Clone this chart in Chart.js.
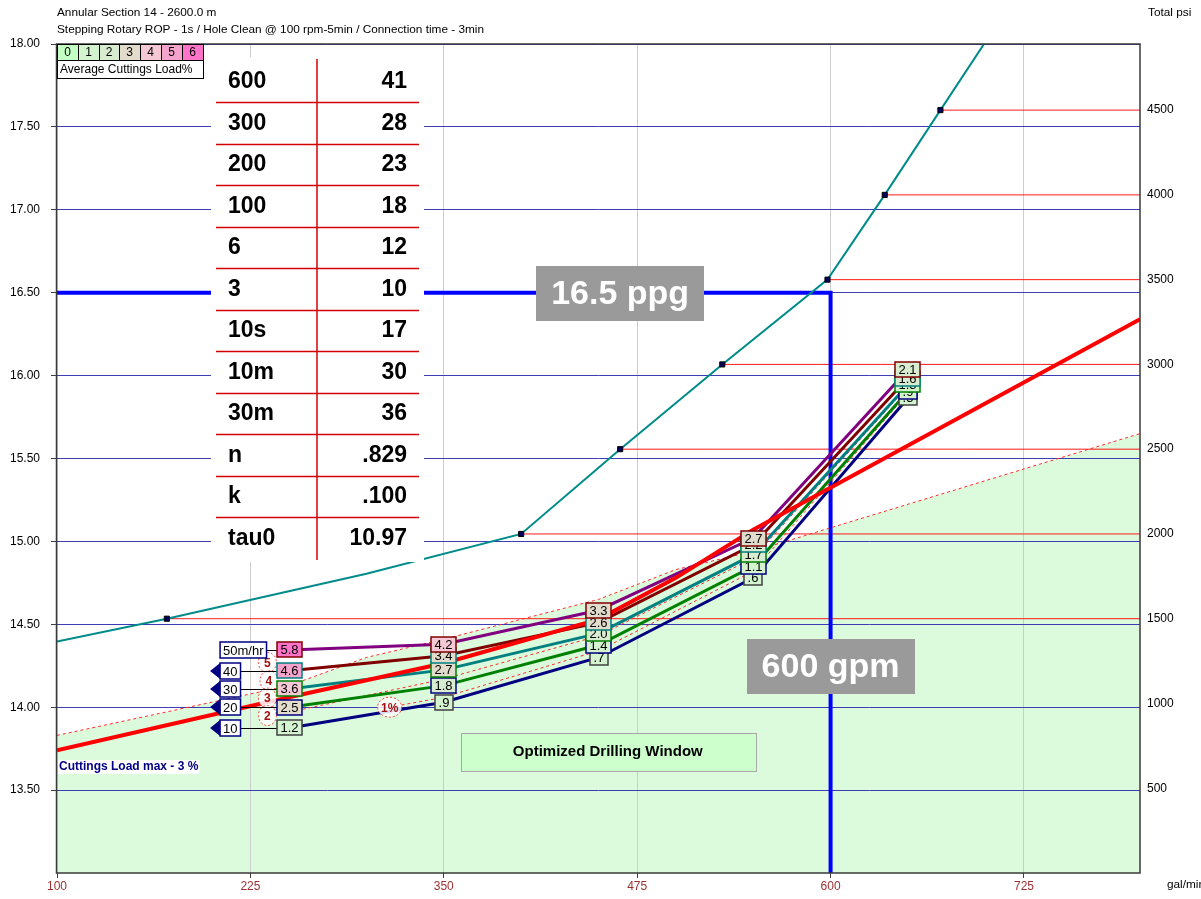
<!DOCTYPE html>
<html>
<head>
<meta charset="utf-8">
<script src="https://cdn.jsdelivr.net/npm/chart.js@4.4.1/dist/chart.umd.min.js"></script>
<style>
  html, body { margin: 0; padding: 0; background: #fff; overflow: hidden; }
  #wrap { position: relative; width: 1201px; height: 899px; }
</style>
</head>
<body>
<div id="wrap"><canvas id="chart" width="1201" height="899"></canvas></div>
<script>
// ---- axes ----
const flowMin = 100, flowMax = 800;
const flowTicks = [100, 225, 350, 475, 600, 725];
const ecdTicks = [13.5, 14, 14.5, 15, 15.5, 16, 16.5, 17, 17.5, 18];
const psiTicks = [500, 1000, 1500, 2000, 2500, 3000, 3500, 4000, 4500];

// ---- ECD (ppg) by flow rate, one series per ROP ----
const flowGpm = [250, 350, 450, 550, 650];
const ecdRop10 = [13.875, 14.03, 14.30, 14.78, 15.865];
const ecdRop20 = [14.00, 14.13, 14.375, 14.85, 15.905];
const ecdRop30 = [14.11, 14.225, 14.445, 14.92, 15.945];
const ecdRop40 = [14.22, 14.31, 14.51, 14.98, 15.985];
const ecdRop50 = [14.345, 14.38, 14.585, 15.02, 16.035];

// ---- average cuttings load (%) at each point ----
const loadRop10 = [1.2, 0.9, 0.7, 0.6, 0.5];
const loadRop20 = [2.5, 1.8, 1.4, 1.1, 0.9];
const loadRop30 = [3.6, 2.7, 2.0, 1.7, 1.3];
const loadRop40 = [4.6, 3.4, 2.6, 2.2, 1.6];
const loadRop50 = [5.8, 4.2, 3.3, 2.7, 2.1];
const ropRates = ['10', '20', '30', '40', '50'];

// ---- cuttings load limit (3 %) and window boundary ----
const maxLoadGpm = [100, 250, 350, 450, 500, 550, 800];
const maxLoadPpg = [13.74, 14.06, 14.265, 14.53, 14.78, 15.07, 16.34];
const windowGpm = [100, 250, 300, 350, 450, 500, 550, 800];
const windowPpg = [13.83, 14.13, 14.30, 14.41, 14.65, 14.83, 14.94, 15.65];

// ---- cuttings load contours ----
const contour1Gpm = [315, 350, 450, 550, 650];
const contour1Ppg = [14.0, 14.06, 14.34, 14.82, 15.895];
const contour2Gpm = [236, 250, 350, 450, 550, 650];
const contour2Ppg = [13.95, 13.97, 14.17, 14.43, 14.90, 15.935];
const contourText = ['5', '4', '3', '2', '1%'];
const contourGpm = [236, 237, 236, 236, 315];
const contourPpg = [14.27, 14.16, 14.055, 13.95, 14.0];

// ---- total pump pressure (psi) ----
const pumpGpm = [100, 171, 300, 400, 464, 530, 598, 635, 671, 710];
const pumpPsi = [1365, 1500, 1765, 2000, 2500, 3000, 3500, 4000, 4500, 5040];
const markerGpm = [171, 400, 464, 530, 598, 635, 671];
const markerPsi = [1500, 2000, 2500, 3000, 3500, 4000, 4500];

// ---- operating point ----
const targetPpg = 16.5;
const targetGpm = 600;

// ---- rheology table ----
const rheoNames = ['600', '300', '200', '100', '6', '3', '10s', '10m', '30m', 'n', 'k', 'tau0'];
const rheoValues = ['41', '28', '23', '18', '12', '10', '17', '30', '36', '.829', '.100', '10.97'];

// ---- cuttings load legend ----
const loadClasses = ['0', '1', '2', '3', '4', '5', '6'];
const loadColors = ['#c4ffc4', '#d4f4d0', '#d8ecd0', '#e2dccc', '#f4c8d4', '#f4a4cc', '#ff74c8'];

const FONT = '"Liberation Sans", Arial, Helvetica, sans-serif';
const pts = (xs, ys) => xs.map((v, i) => ({ x: v, y: ys[i] }));
const fmtLoad = v => (v < 1 ? v.toFixed(1).slice(1) : v.toFixed(1));

const ropSeries = [
  { rate: ropRates[0], ecd: ecdRop10, load: loadRop10, color: '#000080', edge: '#404040' },
  { rate: ropRates[1], ecd: ecdRop20, load: loadRop20, color: '#008000', edge: '#000080' },
  { rate: ropRates[2], ecd: ecdRop30, load: loadRop30, color: '#008080', edge: '#008000' },
  { rate: ropRates[3], ecd: ecdRop40, load: loadRop40, color: '#800000', edge: '#008080' },
  { rate: ropRates[4], ecd: ecdRop50, load: loadRop50, color: '#800080', edge: '#800000' }
];

const datasets = [];
// 0: drilling window (green below the boundary)
datasets.push({
  data: pts(windowGpm, windowPpg), yAxisID: 'y', order: 40,
  borderColor: 'rgba(0,0,0,0)', borderWidth: 0, pointRadius: 0,
  fill: 'start', backgroundColor: '#dcfadc'
});
// 1: band between the load limit and the window boundary
datasets.push({
  data: pts(maxLoadGpm, maxLoadPpg), yAxisID: 'y', order: 39,
  borderColor: 'rgba(0,0,0,0)', borderWidth: 0, pointRadius: 0,
  fill: { target: 0, above: 'rgba(0,0,0,0)', below: '#ffffd4' }
});
// pressure reference lines
markerGpm.forEach((g, i) => {
  datasets.push({
    data: [{ x: g, y: markerPsi[i] }, { x: flowMax, y: markerPsi[i] }], yAxisID: 'y2', order: 30,
    borderColor: '#ff1a1a', borderWidth: 1, pointRadius: 0, fill: false
  });
});
// operating point guide
datasets.push({
  data: [{ x: flowMin, y: targetPpg }, { x: targetGpm, y: targetPpg }, { x: targetGpm, y: 13 }],
  yAxisID: 'y', order: 29, borderColor: '#0000ff', borderWidth: 4, pointRadius: 0, fill: false,
  borderCapStyle: 'butt'
});
// pump pressure curve
datasets.push({
  data: pts(pumpGpm, pumpPsi), yAxisID: 'y2', order: 28,
  borderColor: '#008b8b', borderWidth: 2, pointRadius: 0, fill: false
});
datasets.push({
  data: pts(markerGpm, markerPsi), yAxisID: 'y2', order: 27, showLine: false,
  pointStyle: 'rect', pointRadius: 3.6, pointBackgroundColor: '#000060', pointBorderColor: '#000000',
  pointBorderWidth: 1
});
// window boundary and contours (dashed)
[[windowGpm, windowPpg], [contour1Gpm, contour1Ppg], [contour2Gpm, contour2Ppg]].forEach(([gx, py]) => {
  datasets.push({
    data: pts(gx, py), yAxisID: 'y', order: 26,
    borderColor: '#ff2a2a', borderWidth: 1, borderDash: [3, 3], pointRadius: 0, fill: false
  });
});
// ROP series
ropSeries.forEach((s, k) => {
  datasets.push({
    data: pts(flowGpm, s.ecd), yAxisID: 'y', order: 20 - k,
    borderColor: s.color, borderWidth: 3, pointRadius: 0, fill: false
  });
});
// cuttings load limit line
datasets.push({
  data: pts(maxLoadGpm, maxLoadPpg), yAxisID: 'y', order: 2,
  borderColor: '#ff0000', borderWidth: 4, pointRadius: 0, fill: false
});

function rectStroke(ctx, x, y, w, h) {
  ctx.strokeRect(Math.round(x) + 0.5, Math.round(y) + 0.5, Math.round(w), Math.round(h));
}

const overlay = {
  id: 'overlay',
  afterDatasetsDraw(chart) {
    const { ctx, chartArea: a, scales } = chart;
    const xs = scales.x, ys = scales.y;
    ctx.save();

    // plot frame
    ctx.strokeStyle = '#3a3a3a';
    ctx.lineWidth = 1.5;
    ctx.strokeRect(a.left - 0.5, a.top, a.right - a.left + 0.5, a.bottom - a.top);

    // "Cuttings Load max" note
    ctx.font = 'bold 12px ' + FONT;
    ctx.textAlign = 'left'; ctx.textBaseline = 'middle';
    const note = 'Cuttings Load max - 3 %';
    const nw = ctx.measureText(note).width;
    const ny = ys.getPixelForValue(13.64);
    ctx.fillStyle = '#ffffff';
    ctx.fillRect(a.left + 1, ny - 7, nw + 2, 14);
    ctx.fillStyle = '#000080';
    ctx.fillText(note, a.left + 2, ny);

    // optimized window label
    const wx = xs.getPixelForValue(456), wy = ys.getPixelForValue(13.73);
    ctx.fillStyle = '#ccffcc';
    ctx.fillRect(wx - 147, wy - 19, 295, 38);
    ctx.strokeStyle = '#a8a8a8'; ctx.lineWidth = 1;
    rectStroke(ctx, wx - 147, wy - 19, 295, 38);
    ctx.fillStyle = '#000';
    ctx.font = 'bold 15px ' + FONT;
    ctx.textAlign = 'center';
    ctx.fillText('Optimized Drilling Window', wx, wy);

    // contour labels
    ctx.font = 'bold 12px ' + FONT;
    contourText.forEach((t, i) => {
      const cx = xs.getPixelForValue(contourGpm[i]), cy = ys.getPixelForValue(contourPpg[i]);
      const rx = t.length > 1 ? 12 : 9, ry = 10;
      ctx.beginPath();
      ctx.ellipse(cx, cy, rx, ry, 0, 0, Math.PI * 2);
      ctx.fillStyle = 'rgba(255,255,255,0.85)';
      ctx.fill();
      ctx.setLineDash([2, 2]);
      ctx.strokeStyle = '#ff3a3a'; ctx.lineWidth = 1;
      ctx.stroke();
      ctx.setLineDash([]);
      ctx.fillStyle = '#a01010';
      ctx.fillText(t, cx, cy + 1);
    });

    // ROP flags with connectors
    const p0 = xs.getPixelForValue(flowGpm[0]);
    ctx.font = '13px ' + FONT;
    ropSeries.forEach((s, k) => {
      const py = Math.round(ys.getPixelForValue(s.ecd[0]));
      const label = k === ropSeries.length - 1 ? s.rate + 'm/hr' : s.rate;
      const w = ctx.measureText(label).width + 6, h = 16;
      const bx = p0 - 69;
      ctx.strokeStyle = '#000'; ctx.lineWidth = 1;
      ctx.beginPath(); ctx.moveTo(bx + w, py + 0.5); ctx.lineTo(p0, py + 0.5); ctx.stroke();
      if (k < ropSeries.length - 1) {
        ctx.fillStyle = '#000080';
        ctx.beginPath();
        ctx.moveTo(bx - 10, py); ctx.lineTo(bx, py - 8); ctx.lineTo(bx + 2, py - 8);
        ctx.lineTo(bx + 2, py + 8); ctx.lineTo(bx, py + 8); ctx.closePath(); ctx.fill();
      }
      ctx.fillStyle = '#fff';
      ctx.fillRect(bx, py - h / 2, w, h);
      ctx.strokeStyle = '#000080'; ctx.lineWidth = 1.5;
      ctx.strokeRect(bx, py - h / 2, w, h);
      ctx.fillStyle = '#000';
      ctx.textAlign = 'center';
      ctx.fillText(label, bx + w / 2, py + 1);
    });

    // cuttings load value boxes
    flowGpm.forEach((g, i) => {
      const px = xs.getPixelForValue(g);
      ropSeries.forEach(s => {
        const py = ys.getPixelForValue(s.ecd[i]);
        const t = fmtLoad(s.load[i]);
        const w = Math.round(ctx.measureText(t).width + 7), h = 15;
        const bx = Math.round(px - w / 2), by = Math.round(py - h / 2);
        ctx.fillStyle = loadColors[Math.min(6, Math.round(s.load[i]))];
        ctx.fillRect(bx, by, w, h);
        ctx.strokeStyle = s.edge; ctx.lineWidth = 1.5;
        ctx.strokeRect(bx, by, w, h);
        ctx.fillStyle = '#000';
        ctx.textAlign = 'center';
        ctx.fillText(t, bx + w / 2, by + h / 2 + 1);
      });
    });

    // rheology table
    const tl = a.left + 154, tr = a.left + 367, tt = a.top + 13, tb = a.top + 518;
    ctx.fillStyle = '#ffffff';
    ctx.fillRect(tl, tt, tr - tl, tb - tt);
    ctx.strokeStyle = '#d40000'; ctx.lineWidth = 1.5;
    const colX = a.left + 260;
    ctx.beginPath(); ctx.moveTo(colX, tt + 2); ctx.lineTo(colX, tb - 2); ctx.stroke();
    const rowH = 41.5, firstRow = a.top + 37;
    for (let i = 0; i < rheoNames.length - 1; i++) {
      const ly = Math.round(firstRow + rowH / 2 + 0.5 + i * rowH) + 0.5;
      ctx.beginPath(); ctx.moveTo(tl + 5, ly); ctx.lineTo(tr - 5, ly); ctx.stroke();
    }
    ctx.fillStyle = '#000';
    ctx.font = 'bold 23px ' + FONT;
    rheoNames.forEach((n, i) => {
      const cy = firstRow + i * rowH + 1;
      ctx.textAlign = 'left'; ctx.fillText(n, tl + 17, cy);
      ctx.textAlign = 'right'; ctx.fillText(rheoValues[i], tr - 17, cy);
    });

    // operating point tags
    const tag = (text, cx, cy) => {
      ctx.fillStyle = '#9a9a9a';
      ctx.fillRect(Math.round(cx - 84), Math.round(cy - 27), 168, 55);
      ctx.fillStyle = '#ffffff';
      ctx.font = 'bold 34px ' + FONT;
      ctx.textAlign = 'center'; ctx.textBaseline = 'middle';
      ctx.fillText(text, cx, cy + 2);
    };
    tag(targetPpg + ' ppg', xs.getPixelForValue(464), ys.getPixelForValue(targetPpg));
    tag(targetGpm + ' gpm', xs.getPixelForValue(targetGpm), ys.getPixelForValue(14.25));

    // cuttings load legend
    const lx = a.left, ly0 = a.top, cw = 20.8;
    ctx.lineWidth = 1; ctx.strokeStyle = '#000';
    ctx.font = '12px ' + FONT; ctx.textBaseline = 'middle';
    loadClasses.forEach((c, i) => {
      const cx = Math.round(lx + i * cw);
      const nx = Math.round(lx + (i + 1) * cw);
      ctx.fillStyle = loadColors[i];
      ctx.fillRect(cx, ly0, nx - cx, 16);
      rectStroke(ctx, cx, ly0, nx - cx, 16);
      ctx.fillStyle = '#000'; ctx.textAlign = 'center';
      ctx.fillText(c, (cx + nx) / 2, ly0 + 8.5);
    });
    const lw = Math.round(cw * loadClasses.length);
    ctx.fillStyle = '#fff';
    ctx.fillRect(lx, ly0 + 16, lw, 18);
    rectStroke(ctx, lx, ly0 + 16, lw, 18);
    ctx.fillStyle = '#000'; ctx.textAlign = 'left';
    ctx.fillText('Average Cuttings Load%', lx + 3, ly0 + 25.5);

    // headings and units
    ctx.font = '11.8px ' + FONT;
    ctx.fillText('Annular Section 14 - 2600.0 m', a.left, 13);
    ctx.fillText('Stepping Rotary ROP - 1s / Hole Clean @ 100 rpm-5min / Connection time - 3min', a.left, 30);
    ctx.fillText('Total psi', a.right + 8, 13);
    ctx.fillText('gal/min', a.right + 27, a.bottom + 12);
    ctx.restore();
  }
};

new Chart(document.getElementById('chart'), {
  type: 'line',
  data: { datasets },
  plugins: [overlay],
  options: {
    responsive: false,
    animation: false,
    devicePixelRatio: 1,
    events: [],
    layout: { padding: { top: 44, left: 0, right: 0, bottom: 0 } },
    elements: { line: { tension: 0 } },
    plugins: {
      legend: { display: false },
      tooltip: { enabled: false },
      filler: { drawTime: 'beforeDraw', propagate: false }
    },
    scales: {
      x: {
        type: 'linear', min: flowMin, max: flowMax, position: 'bottom',
        afterBuildTicks: s => { s.ticks = flowTicks.map(v => ({ value: v })); },
        afterFit: s => { s.height = 26; },
        border: { display: false },
        grid: { color: '#cccccc', lineWidth: 1, tickColor: '#404040', tickLength: 5 },
        ticks: { color: '#9c3030', font: { family: FONT, size: 12 }, padding: 1, maxRotation: 0, autoSkip: false }
      },
      y: {
        type: 'linear', min: 13, max: 18, position: 'left',
        afterBuildTicks: s => { s.ticks = ecdTicks.map(v => ({ value: v })); },
        afterFit: s => { s.width = 57; },
        border: { display: false },
        grid: { color: '#3c3cb4', lineWidth: 1, tickColor: '#404040', tickLength: 6 },
        ticks: { color: '#000', font: { family: FONT, size: 12 }, padding: 11, callback: v => Number(v).toFixed(2) }
      },
      y2: {
        type: 'linear', min: 0, max: 4890, position: 'right',
        afterBuildTicks: s => { s.ticks = psiTicks.map(v => ({ value: v })); },
        afterFit: s => { s.width = 61; },
        border: { display: false },
        grid: { display: false, drawTicks: false },
        ticks: { color: '#000', font: { family: FONT, size: 12 }, padding: 7, callback: v => String(v) }
      }
    }
  }
});
</script>
</body>
</html>
